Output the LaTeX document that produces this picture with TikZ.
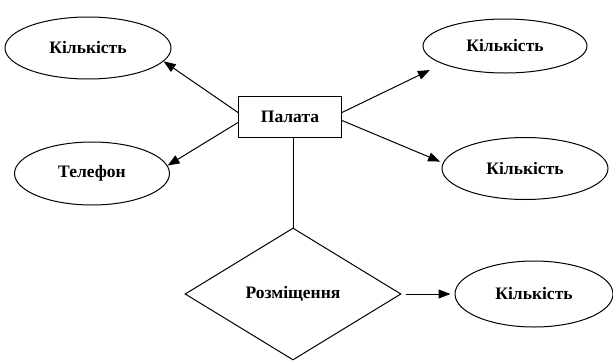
\documentclass[tikz,border=0pt]{standalone}
\usepackage{fontspec}
\setmainfont{Liberation Serif}
\usetikzlibrary{shapes.geometric,arrows.meta}
\begin{document}
\begin{tikzpicture}[x=1pt,y=-1pt,
  attr/.style={ellipse,draw,line width=1pt,inner sep=0pt},
  ent/.style={rectangle,draw,line width=1pt,inner sep=0pt,minimum width=103pt,minimum height=41pt},
  rel/.style={diamond,draw,line width=1pt,inner sep=0pt,minimum width=216pt,minimum height=132pt},
  link/.style={line width=1pt},
  arr/.style={link,-{Triangle[length=12pt,width=9pt]}},
  every node/.style={font=\fontsize{17.5}{20}\selectfont\bfseries}]
\useasboundingbox (0,0) rectangle (613,362);
% entity, relationship and attributes
\node[ent] (pal) at (290,116.5) {Палата};
\node[attr,minimum width=166pt,minimum height=62pt] (k1) at (88,48) {Кількість};
\node[attr,minimum width=155pt,minimum height=63pt] (tel) at (92,173.5) {Телефон};
\node[attr,minimum width=164pt,minimum height=54pt] (k2) at (505,46) {Кількість};
\node[attr,minimum width=166pt,minimum height=62pt] (k3) at (525,168.5) {Кількість};
\node[rel] (dia) at (293,294) {Розміщення};
\node[attr,minimum width=158pt,minimum height=66pt] (k4) at (534,294) {Кількість};
% connectors
\draw[arr] ([yshift=4pt]pal.west) -- (k1.-10);
\draw[arr] ([yshift=-6pt]pal.west) -- (tel.6);
\draw[arr,shorten >=14pt] ([yshift=4pt]pal.east) -- (k2.196);
\draw[arr,shorten >=3pt] ([yshift=-4pt]pal.east) -- (k3.176);
\draw[link] (pal.south -| dia.north) -- (dia.north);
\draw[arr,shorten <=4pt,shorten >=4pt] (dia.east) -- (k4.west);
\end{tikzpicture}
\end{document}
